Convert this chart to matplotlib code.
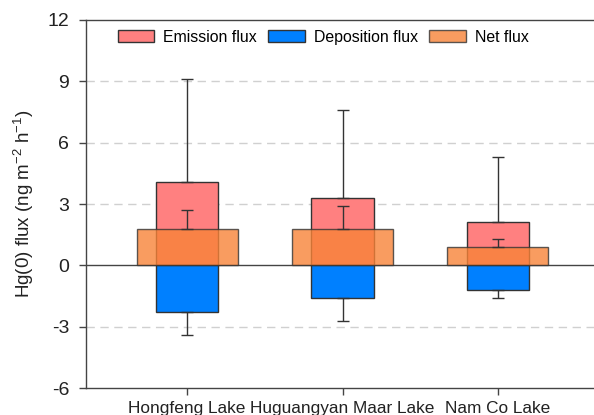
import matplotlib
matplotlib.use("Agg")
import matplotlib.pyplot as plt
import numpy as np

plt.rcParams['font.family'] = ['Liberation Sans', 'DejaVu Sans']
plt.rcParams['mathtext.fontset'] = 'custom'
plt.rcParams['mathtext.rm'] = 'Liberation Sans'

lakes = ["Hongfeng Lake", "Huguangyan Maar Lake", "Nam Co Lake"]
emission = [4.1, 3.3, 2.1]
emission_err = [5.0, 4.3, 3.2]
deposition = [-2.3, -1.6, -1.2]
deposition_err = [1.1, 1.1, 0.4]
net = [1.8, 1.8, 0.9]
net_err = [0.9, 1.1, 0.4]
yticks = [-6, -3, 0, 3, 6, 9, 12]

fig = plt.figure(figsize=(5.94, 4.15), dpi=100)
ax = fig.add_axes([86/594, 1-388/415, (599-86)/594, (388-20)/415])

x = np.arange(1, len(lakes) + 1)
edge = '#333333'
ecol = '#333333'

for g in [9, 6, 3, -3]:
    ax.axhline(g, color='#d0d0d0', lw=1.0, ls=(0, (6, 4)), zorder=0)
ax.axhline(0, color='#444444', lw=1.0, zorder=1)

ax.bar(x, emission, width=0.4, color='#FF8080', edgecolor=edge, lw=1.0,
       label='Emission flux', zorder=2)
ax.errorbar(x, emission, yerr=[np.zeros(3), emission_err], fmt='none',
            ecolor=ecol, elinewidth=1.0, capsize=4, capthick=1.0, zorder=2.1)
ax.bar(x, deposition, width=0.4, color='#0080FF', edgecolor=edge, lw=1.0,
       label='Deposition flux', zorder=2)
ax.errorbar(x, deposition, yerr=[deposition_err, np.zeros(3)], fmt='none',
            ecolor=ecol, elinewidth=1.0, capsize=4, capthick=1.0, zorder=2.1)
ax.bar(x, net, width=0.65, color='#F88338', alpha=0.8, edgecolor=edge, lw=1.0,
       label='Net flux', zorder=3)
ax.errorbar(x, net, yerr=[np.zeros(3), net_err], fmt='none',
            ecolor=ecol, elinewidth=1.0, capsize=4, capthick=1.0, zorder=3.1)

ax.set_xlim(0.35, 3.65)
ax.set_ylim(-6, 12)
ax.set_yticks(yticks)
ax.set_yticklabels([str(t) for t in yticks])
ax.set_xticks(x)
ax.set_xticklabels(lakes)
ax.tick_params(axis='x', labelsize=12.4, colors='#222222', direction='out',
               length=5, width=1.0, pad=4)
ax.tick_params(axis='y', labelsize=14, colors='#222222', direction='out',
               length=5, width=1.0, pad=7)
ax.tick_params(axis='both', color='#444444')
for s in ax.spines.values():
    s.set_color('#444444')
    s.set_linewidth(1.0)

ax.set_ylabel('Hg(0) flux (ng m$^{\\mathrm{-2}}$ h$^{\\mathrm{-1}}$)', fontsize=13.5,
              color='#222222', labelpad=8)

leg = ax.legend(loc='upper left', bbox_to_anchor=(0.043, 1.0), ncol=3, frameon=False,
                fontsize=11.4, handlelength=2.3, handleheight=0.72,
                handletextpad=0.6, columnspacing=0.7, borderaxespad=0.2)

fig.savefig('out.png', dpi=100)
